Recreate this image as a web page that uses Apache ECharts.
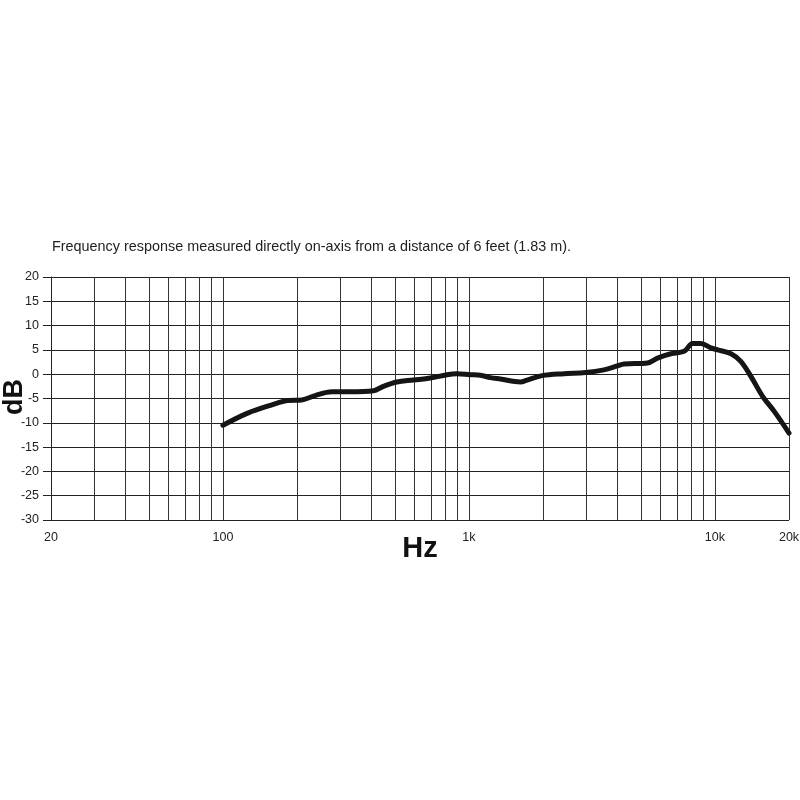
<!DOCTYPE html>
<html>
<head>
<meta charset="utf-8">
<script src="https://cdn.jsdelivr.net/npm/echarts@6/dist/echarts.min.js"></script>
<style>html,body{margin:0;padding:0;background:#fff;}#c{width:800px;height:800px;}</style>
</head>
<body>
<div id="c"></div>
<script>
const freqs = [100,126,158,184,209,237,277,329,409,449,509,595,696,814,894,1013,1113,1222,1342,1619,1724,1985,2432,2980,3538,4012,4269,5318,5843,6617,7498,8112,8768,9632,10256,11623,12763,14020,15645,17448,20000];
const dB = [-10.5,-8.0,-6.3,-5.4,-5.3,-4.4,-3.6,-3.6,-3.4,-2.5,-1.6,-1.2,-0.8,-0.1,0.1,-0.1,-0.2,-0.7,-1.0,-1.6,-1.2,-0.3,0.1,0.35,0.9,1.7,2.1,2.3,3.3,4.2,4.7,6.3,6.3,5.4,5.0,4.2,2.6,-0.5,-4.6,-7.7,-12.1];
const gridFreqs = [30,40,50,60,70,80,90,100,200,300,400,500,600,700,800,900,1000,2000,3000,4000,5000,6000,7000,8000,9000,10000,20000];
const xTickValues = [20,100,1000,10000,20000];
const xTickLabels = {20:'20',100:'100',1000:'1k',10000:'10k',20000:'20k'};
const xName = 'Hz';
const yName = 'dB';
const caption = 'Frequency response measured directly on-axis from a distance of 6 feet (1.83 m).';

const chart = echarts.init(document.getElementById('c'));
chart.setOption({
  animation: false,
  backgroundColor: '#fff',
  textStyle: {fontFamily: 'Liberation Sans, Arial, sans-serif'},
  title: {
    text: caption, left: 47, top: 235,
    textStyle: {fontSize: 14.4, fontWeight: 'normal', color: '#222', fontFamily: 'Liberation Sans'}
  },
  grid: {left: 51, right: 11, top: 277, bottom: 280, containLabel: false, outerBoundsMode: 'none'},
  graphic: [
    {type: 'text', x: 420, y: 549, style: {text: xName, font: 'bold 29px "Liberation Sans"', fill: '#111', align: 'center', verticalAlign: 'middle'}},
    {type: 'text', x: 15, y: 397, rotation: Math.PI / 2, style: {text: yName, font: 'bold 27px "Liberation Sans"', fill: '#111', align: 'center', verticalAlign: 'middle'}}
  ],
  xAxis: {
    type: 'log', logBase: 10, min: 20, max: 20000,
    axisLine: {show: true, lineStyle: {color: '#222', width: 1}},
    axisTick: {show: true, customValues: xTickValues, length: 5, lineStyle: {color: '#222'}},
    axisLabel: {customValues: xTickValues, formatter: v => xTickLabels[Math.round(v)] || '', fontSize: 12.5, color: '#222', margin: 11},
    splitLine: {show: false}, minorTick: {show: false}
  },
  yAxis: {
    type: 'value', min: -30, max: 20, interval: 5,
    axisLine: {show: true, lineStyle: {color: '#222', width: 1}},
    axisTick: {show: true, length: 8, lineStyle: {color: '#222'}},
    axisLabel: {fontSize: 12.5, color: '#222', margin: 12},
    splitLine: {show: true, lineStyle: {color: '#222', width: 1}}
  },
  series: [{
    type: 'line',
    data: freqs.map((f, i) => [f, dB[i]]),
    smooth: 0.35,
    symbol: 'none',
    lineStyle: {color: '#151515', width: 5, cap: 'round', join: 'round'},
    z: 5,
    markLine: {
      silent: true, symbol: 'none', label: {show: false},
      lineStyle: {color: '#333', width: 1, type: 'solid'},
      data: gridFreqs.map(f => ({xAxis: f})),
      z: 1
    }
  }]
});
</script>
</body>
</html>
